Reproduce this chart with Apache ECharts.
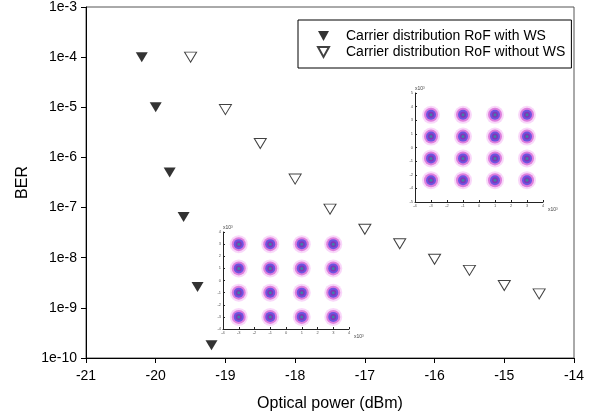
<!DOCTYPE html>
<html>
<head>
<meta charset="utf-8">
<script src="https://cdn.jsdelivr.net/npm/echarts@6/dist/echarts.min.js"></script>
<style>
  html, body { margin: 0; padding: 0; background: #fff; }
  #chart { width: 590px; height: 418px; }
</style>
</head>
<body>
<div id="chart"></div>
<script>
// BER data
var powerWithWS = [-20.2, -20.0, -19.8, -19.6, -19.4, -19.2];
var berWithWS = [1e-4, 1e-5, 5e-7, 6.5e-8, 2.6e-9, 1.8e-10];

var powerWithoutWS = [-19.5, -19.0, -18.5, -18.0, -17.5, -17.0, -16.5, -16.0, -15.5, -15.0, -14.5];
var berWithoutWS = [1e-4, 9e-6, 1.9e-6, 3.7e-7, 9.3e-8, 3.7e-8, 1.9e-8, 9.3e-9, 5.6e-9, 2.8e-9, 1.9e-9];

var seriesNames = ['Carrier distribution RoF with WS', 'Carrier distribution RoF without WS'];

// 16-QAM constellation centres for the two insets
var qamI = [-3, -1, 1, 3];
var qamQ = [-3, -1, 1, 3];

function pairs(xs, ys) {
  var out = [];
  for (var i = 0; i < xs.length; i++) out.push([xs[i], ys[i]]);
  return out;
}

var qamPoints = [];
for (var a = 0; a < qamI.length; a++) {
  for (var b = 0; b < qamQ.length; b++) {
    qamPoints.push([qamI[a], qamQ[b]]);
  }
}

var font = 'Liberation Sans, Arial, sans-serif';
var downTri = 'path://M0,0 L10,0 L5,9 Z';

// small axes for the constellation insets
function insetX(idx) {
  return {
    type: 'value', gridIndex: idx, min: -4, max: 4, interval: 1,
    name: 'x10\u00b3', nameLocation: 'end', nameGap: -4,
    nameTextStyle: { fontSize: 5, color: '#444', verticalAlign: 'top', padding: [5, 0, 0, 0] },
    axisLine: { onZero: false, lineStyle: { color: '#222', width: 1 } },
    axisTick: { show: true, length: 2, inside: true, lineStyle: { color: '#222' } },
    axisLabel: { fontSize: 4, color: '#555', margin: 2, fontFamily: font },
    splitLine: { show: false }
  };
}
function insetY(idx, lo, hi, step) {
  return {
    type: 'value', gridIndex: idx, min: lo, max: hi, interval: step,
    name: 'x10\u00b3', nameLocation: 'end', nameGap: 1,
    nameTextStyle: { fontSize: 5, color: '#444', align: 'left' },
    axisLine: { show: true, onZero: false, lineStyle: { color: '#222', width: 1 } },
    axisTick: { show: true, length: 2, inside: true, lineStyle: { color: '#222' } },
    axisLabel: { fontSize: 4, color: '#555', margin: 2, fontFamily: font,
      formatter: function (v) { return Math.round(v); } },
    splitLine: { show: false }
  };
}

// each constellation blob is drawn in a few coloured layers
var blobLayers = [
  { size: 18, color: '#f4b0f4', opacity: 0.5 },
  { size: 14, color: '#d050d0', opacity: 0.65 },
  { size: 10, color: '#4040e0', opacity: 0.7 },
  { size: 6, color: '#9020a0', opacity: 0.6 },
  { size: 3, color: '#20a0a0', opacity: 0.7 }
];

function blobSeries(idx) {
  return blobLayers.map(function (l) {
    return {
      type: 'scatter', xAxisIndex: idx, yAxisIndex: idx,
      data: qamPoints, symbol: 'circle', symbolSize: l.size,
      itemStyle: { color: l.color, opacity: l.opacity },
      silent: true, z: 1
    };
  });
}

var myChart = echarts.init(document.getElementById('chart'));

var option = {
  backgroundColor: '#fff',
  animation: false,
  textStyle: { fontFamily: font },
  grid: [
    { left: 86, right: 16, top: 7, bottom: 60, show: true, borderColor: '#555', borderWidth: 1 },
    { left: 223, top: 232, width: 126, height: 97 },
    { left: 415, top: 93, width: 128, height: 109 }
  ],
  legend: {
    data: [
      { name: seriesNames[0], icon: downTri },
      { name: seriesNames[1], icon: downTri }
    ],
    orient: 'vertical',
    left: 298, top: 20,
    padding: [9, 6, 9, 19],
    itemGap: 2,
    itemWidth: 11, itemHeight: 10,
    borderColor: '#000', borderWidth: 1,
    backgroundColor: '#fff',
    textStyle: { fontSize: 14, color: '#000', fontFamily: font, padding: [0, 0, 0, 12] }
  },
  xAxis: [
    {
      type: 'value', gridIndex: 0, min: -21, max: -14, interval: 1,
      name: 'Optical power (dBm)', nameLocation: 'middle', nameGap: 38,
      nameTextStyle: { fontSize: 16, color: '#000', fontFamily: font },
      axisLine: { lineStyle: { color: '#000', width: 1 } },
      axisTick: { length: 5, lineStyle: { color: '#000' } },
      axisLabel: { fontSize: 14, color: '#000', margin: 11, fontFamily: font },
      splitLine: { show: false }
    },
    insetX(1),
    insetX(2)
  ],
  yAxis: [
    {
      type: 'log', gridIndex: 0, min: 1e-10, max: 1e-3, logBase: 10,
      name: 'BER', nameLocation: 'middle', nameGap: 54,
      nameTextStyle: { fontSize: 16, color: '#000', fontFamily: font },
      axisLine: { show: true, lineStyle: { color: '#000', width: 1 } },
      axisTick: { show: true, length: 5, lineStyle: { color: '#000' } },
      axisLabel: {
        fontSize: 14, color: '#000', margin: 9, fontFamily: font,
        formatter: function (v) { return '1e' + Math.round(Math.log10(v)); }
      },
      splitLine: { show: false },
      minorTick: { show: false }
    },
    insetY(1, -4, 4, 1),
    insetY(2, -5, 5, 1.25)
  ],
  series: blobSeries(1).concat(blobSeries(2)).concat([
    {
      name: seriesNames[0],
      type: 'scatter', xAxisIndex: 0, yAxisIndex: 0,
      data: pairs(powerWithWS, berWithWS),
      symbol: 'triangle', symbolRotate: 180, symbolSize: [12, 10],
      itemStyle: { color: '#000' },
      z: 5
    },
    {
      name: seriesNames[1],
      type: 'scatter', xAxisIndex: 0, yAxisIndex: 0,
      data: pairs(powerWithoutWS, berWithoutWS),
      symbol: 'triangle', symbolRotate: 180, symbolSize: [12, 10],
      itemStyle: { color: '#fff', borderColor: '#111', borderWidth: 1 },
      z: 5
    }
  ])
};

myChart.setOption(option);
</script>
</body>
</html>
